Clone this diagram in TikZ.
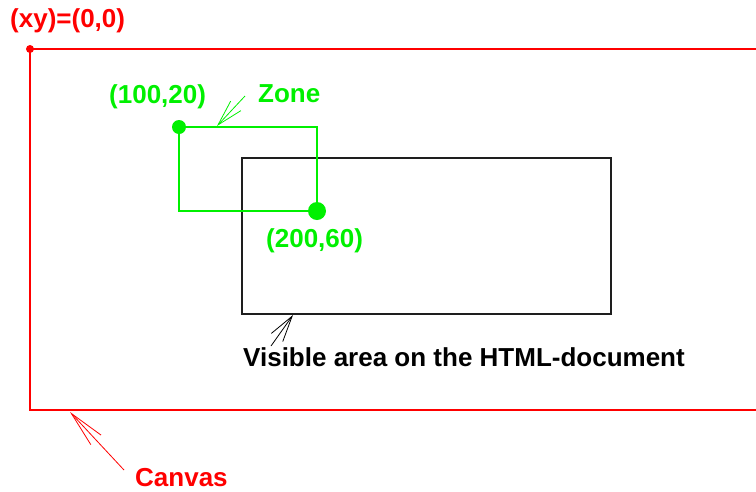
\documentclass[tikz,border=0pt]{standalone}
\usepackage{fontspec}
\setmainfont{Liberation Sans}
\usetikzlibrary{arrows.meta}
\definecolor{cred}{RGB}{255,0,0}
\definecolor{cgreen}{RGB}{0,240,0}
\definecolor{cdark}{RGB}{30,30,30}
\tikzset{
  lbl/.style={inner sep=0pt, anchor=base west, font=\fontsize{26}{30}\selectfont\bfseries},
  ptr/.style={line width=0.8pt, -{Straight Barb[length=#1, width=14pt, line width=0.8pt]}},
  ptr/.default=20pt,
  dot/.style={circle, fill, inner sep=0pt, minimum size=#1},
}
\begin{document}
\begin{tikzpicture}[x=1pt, y=-1pt]
\useasboundingbox (0,0) rectangle (756,491);
% canvas
\draw[cred, line width=2pt] (30,49) -- (760,49) (30,49) -- (30,410) -- (760,410);
\node[dot=8pt, cred] (origin) at (30,49) {};
\node[lbl, cred] (originlbl) at (10,27) {(xy)=(0,0)};
\node[lbl, cred] (canvaslbl) at (135,486) {Canvas};
\coordinate (canvastip) at (70,412);
\coordinate (canvastail) at (124,470);
\draw[ptr=36pt, cred] (canvastail) -- (canvastip);
% visible area
\node[draw=cdark, line width=1.6pt, inner sep=0pt, minimum width=369pt, minimum height=156pt, anchor=north west] (visible) at (241,157) {};
\node[lbl, black] (visiblelbl) at (243,366) {Visible area on the HTML-document};
\coordinate (vistip) at (293,315);
\coordinate (vistail) at (271,346);
\draw[ptr=26pt, black] (vistail) -- (vistip);
% zone
\draw[cgreen, line width=1.6pt] (179,127) rectangle (317,211);
\node[dot=14pt, cgreen] (zonetl) at (179,127) {};
\node[dot=18pt, cgreen] (zonebr) at (317,211) {};
\node[lbl, cgreen] (tllbl) at (109,103) {(100,20)};
\node[lbl, cgreen] (brlbl) at (266,247) {(200,60)};
\node[lbl, cgreen] (zonelbl) at (258,102) {Zone};
\coordinate (zonetip) at (217,126);
\coordinate (zonetail) at (245,96);
\draw[ptr=26pt, cgreen] (zonetail) -- (zonetip);
\end{tikzpicture}
\end{document}
